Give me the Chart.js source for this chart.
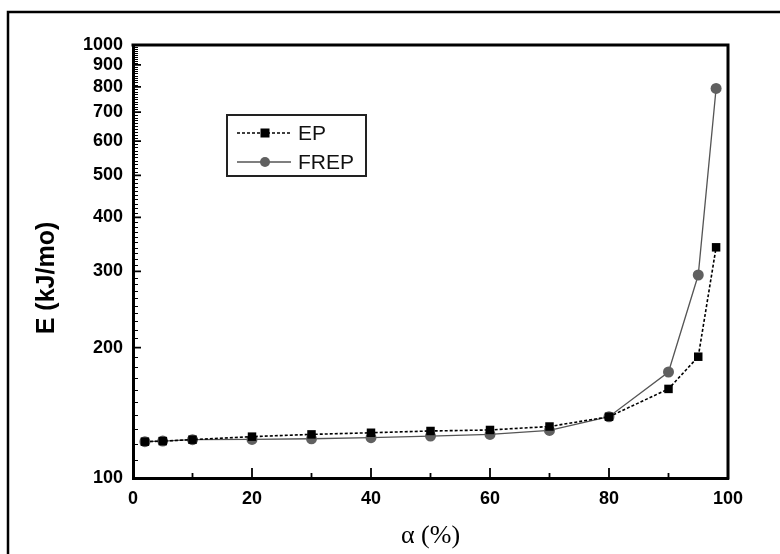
<!DOCTYPE html>
<html>
<head>
<meta charset="utf-8">
<script src="https://cdn.jsdelivr.net/npm/chart.js@4/dist/chart.umd.min.js"></script>
<style>
  html, body { margin: 0; padding: 0; background: #fff; }
  canvas { display: block; }
</style>
</head>
<body>
<canvas id="c" width="780" height="554"></canvas>
<script>
// ---- Data ----
const alpha = [2, 5, 10, 20, 30, 40, 50, 60, 70, 80, 90, 95, 98];
const epValues = [121.3, 121.7, 122.6, 124.6, 126.1, 127.2, 128.4, 129.1, 131.5, 138.5, 160.6, 190.6, 341];
const frepValues = [121.3, 121.7, 122.6, 122.8, 123.2, 123.9, 125.0, 126.1, 128.8, 138.5, 175.7, 294.3, 794];
const xTicks = [0, 20, 40, 60, 80, 100];
const xMinorTicks = [10, 30, 50, 70, 90];
const yTicks = [100, 200, 300, 400, 500, 600, 700, 800, 900, 1000];
const seriesNames = ['EP', 'FREP'];
const xTitle = 'α (%)';
const yTitle = 'E (kJ/mo)';

const toPoints = (xs, ys) => xs.map((x, i) => ({ x: x, y: ys[i] }));

const decor = {
  id: 'decor',
  afterDraw(chart) {
    const ctx = chart.ctx;
    const a = chart.chartArea;
    const xs = chart.scales.x, ys = chart.scales.y;
    ctx.save();
    // outer frame (extends past canvas on right/bottom)
    ctx.strokeStyle = '#000';
    ctx.lineWidth = 2.5;
    ctx.beginPath();
    ctx.moveTo(8, 560); ctx.lineTo(8, 12); ctx.lineTo(790, 12);
    ctx.stroke();
    // top & right of plot box
    ctx.lineWidth = 3;
    ctx.beginPath();
    ctx.moveTo(a.left - 1.5, a.top); ctx.lineTo(a.right, a.top); ctx.lineTo(a.right, a.bottom + 1.5);
    ctx.stroke();
    // inward ticks
    ctx.lineWidth = 1.8;
    ctx.beginPath();
    xTicks.forEach(v => { const p = xs.getPixelForValue(v); ctx.moveTo(p, a.bottom); ctx.lineTo(p, a.bottom - 10); });
    xMinorTicks.forEach(v => { const p = xs.getPixelForValue(v); ctx.moveTo(p, a.bottom); ctx.lineTo(p, a.bottom - 5); });
    yTicks.forEach(v => { const p = ys.getPixelForValue(v); ctx.moveTo(a.left, p); ctx.lineTo(a.left + 8, p); });
    ctx.stroke();
    ctx.lineWidth = 1.2;
    ctx.beginPath();
    for (let v = 110; v < 1000; v += 10) {
      if (v % 100 === 0) continue;
      const p = Math.round(ys.getPixelForValue(v)) + 0.5;
      ctx.moveTo(a.left, p); ctx.lineTo(a.left + 5, p);
    }
    ctx.stroke();
    // axis titles
    ctx.fillStyle = '#000';
    ctx.font = 'bold 25px "Liberation Sans", Arial, sans-serif';
    ctx.textAlign = 'center';
    ctx.textBaseline = 'middle';
    ctx.save();
    ctx.translate(47, 278);
    ctx.rotate(-Math.PI / 2);
    ctx.fillText(yTitle, 0, 0);
    ctx.restore();
    ctx.font = '26px "Liberation Serif", "Times New Roman", serif';
    ctx.fillText(xTitle, (a.left + a.right) / 2, 536);
    // legend
    ctx.strokeStyle = '#222';
    ctx.lineWidth = 2;
    ctx.strokeRect(227, 115, 139, 61);
    const rows = [133, 162];
    chart.data.datasets.forEach((ds, i) => {
      const y = rows[i];
      ctx.strokeStyle = ds.borderColor;
      ctx.lineWidth = ds.borderWidth;
      ctx.setLineDash(ds.borderDash || []);
      ctx.beginPath(); ctx.moveTo(237, y); ctx.lineTo(291, y); ctx.stroke();
      ctx.setLineDash([]);
      ctx.fillStyle = ds.pointBackgroundColor;
      if (ds.pointStyle === 'rect') {
        const s = 9; ctx.fillRect(265 - s / 2, y - s / 2, s, s);
      } else {
        ctx.beginPath(); ctx.arc(265, y, 5, 0, Math.PI * 2); ctx.fill();
      }
      ctx.fillStyle = '#111';
      ctx.font = '21px "Liberation Sans", Arial, sans-serif';
      ctx.textAlign = 'left';
      ctx.fillText(ds.label, 298, y + 1);
    });
    ctx.restore();
  }
};

new Chart(document.getElementById('c'), {
  type: 'line',
  data: {
    datasets: [
      {
        label: seriesNames[0],
        data: toPoints(alpha, epValues),
        borderColor: '#000',
        borderWidth: 1.6,
        borderDash: [3, 2],
        pointStyle: 'rect',
        pointRadius: 6,
        pointBackgroundColor: '#000',
        pointBorderColor: '#000',
        pointBorderWidth: 0,
        tension: 0
      },
      {
        label: seriesNames[1],
        data: toPoints(alpha, frepValues),
        borderColor: '#555',
        borderWidth: 1.3,
        pointStyle: 'circle',
        pointRadius: 5.5,
        pointBackgroundColor: '#606060',
        pointBorderColor: '#606060',
        pointBorderWidth: 0,
        tension: 0
      }
    ]
  },
  options: {
    responsive: false,
    animation: false,
    devicePixelRatio: 1,
    layout: { padding: { left: 0, right: 52, top: 45, bottom: 0 } },
    plugins: { legend: { display: false }, tooltip: { enabled: false } },
    scales: {
      x: {
        type: 'linear',
        min: 0, max: 100,
        afterBuildTicks(scale) { scale.ticks = xTicks.map(v => ({ value: v })); },
        afterFit(scale) { scale.height = 76; },
        grid: { display: false, drawTicks: false },
        border: { display: true, width: 3, color: '#000' },
        ticks: {
          color: '#000',
          padding: 10,
          maxRotation: 0,
          autoSkip: false,
          font: { family: '"Liberation Sans", Arial, sans-serif', size: 18, weight: 'bold' },
          callback: v => String(v)
        }
      },
      y: {
        type: 'logarithmic',
        min: 100, max: 1000,
        afterBuildTicks(scale) { scale.ticks = yTicks.map(v => ({ value: v, major: false })); },
        afterFit(scale) { scale.width = 133; },
        grid: { display: false, drawTicks: false },
        border: { display: true, width: 3, color: '#000' },
        ticks: {
          color: '#000',
          padding: 10,
          autoSkip: false,
          font: { family: '"Liberation Sans", Arial, sans-serif', size: 18, weight: 'bold' },
          callback: v => String(v)
        }
      }
    }
  },
  plugins: [decor]
});
</script>
</body>
</html>
